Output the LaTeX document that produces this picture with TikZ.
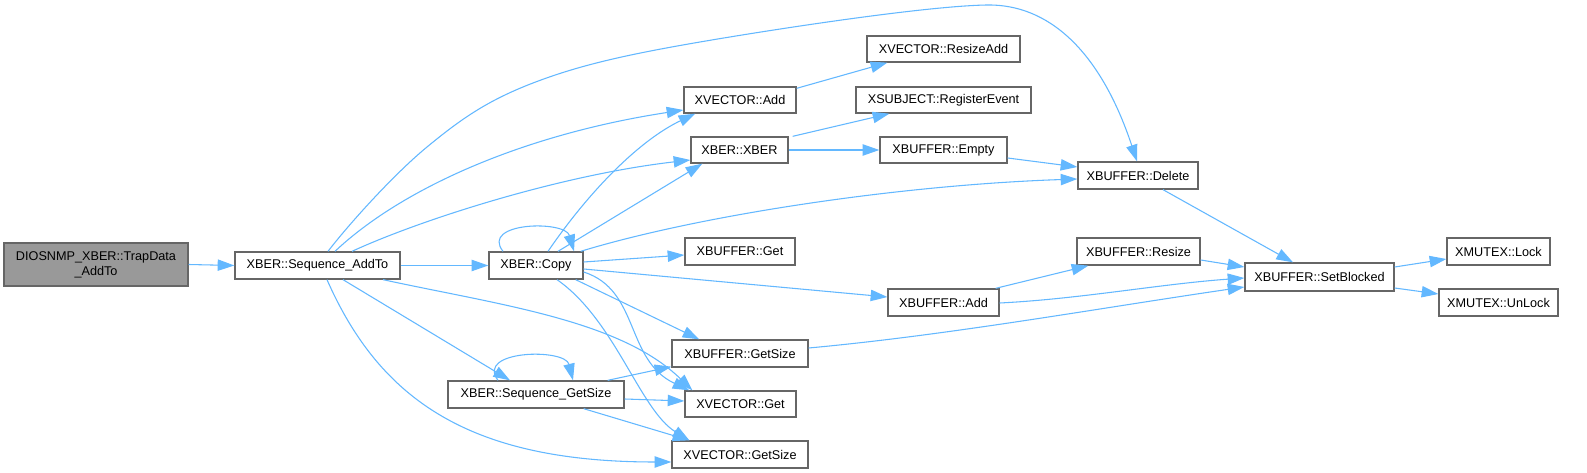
\documentclass[tikz,border=0pt]{standalone}
\usepackage{fontspec}
\setmainfont{Liberation Sans}
\usetikzlibrary{arrows.meta,calc}
\definecolor{edgec}{HTML}{63B8FF}
\definecolor{bordc}{HTML}{666666}
\definecolor{rootc}{HTML}{999999}
\tikzset{
  nd/.style={draw=bordc, fill=white, line width=1pt, minimum width=#1*0.75pt,
    minimum height=20.25pt, inner sep=0pt, font=\fontsize{9.5}{11.25}\selectfont, align=center},
  edge/.style={draw=edgec, line width=0.8pt, -{Triangle[length=12.5pt,width=8.5pt]}}
}
\begin{document}
\begin{tikzpicture}[x=0.75pt,y=-0.75pt]
\fill[white] (0,0) rectangle (1587,473);
\useasboundingbox (0,0) rectangle (1587,473);
% nodes
\node[nd=184, fill=rootc, minimum height=32.25pt] (dio) at (96,264.5) {DIOSNMP\_XBER::TrapData\\\_AddTo};
\node[nd=165] (sat) at (317.5,265.5) {XBER::Sequence\_AddTo};
\node[nd=94] (copy) at (536,265.5) {XBER::Copy};
\node[nd=110] (get) at (740,251.5) {XBUFFER::Get};
\node[nd=153, minimum height=19.5pt] (radd) at (943.5,49) {XVECTOR::ResizeAdd};
\node[nd=112, minimum height=19.5pt] (vadd) at (740,100) {XVECTOR::Add};
\node[nd=175, minimum height=19.5pt] (reg) at (943.5,100) {XSUBJECT::RegisterEvent};
\node[nd=97, minimum height=19.5pt] (xber) at (739.5,150) {XBER::XBER};
\node[nd=127, minimum height=19.5pt] (empty) at (943.5,150) {XBUFFER::Empty};
\node[nd=120] (del) at (1138,175.5) {XBUFFER::Delete};
\node[nd=123] (resize) at (1138.5,251.5) {XBUFFER::Resize};
\node[nd=149, minimum height=21pt] (setb) at (1319.5,277) {XBUFFER::SetBlocked};
\node[nd=103] (lock) at (1498.5,251.5) {XMUTEX::Lock};
\node[nd=119] (unlock) at (1498.5,302.5) {XMUTEX::UnLock};
\node[nd=136] (bgs) at (740,353.5) {XBUFFER::GetSize};
\node[nd=176] (sgs) at (536,394.5) {XBER::Sequence\_GetSize};
\node[nd=111, minimum height=19.5pt] (vget) at (740.5,404) {XVECTOR::Get};
\node[nd=136] (vgs) at (740,454.5) {XVECTOR::GetSize};
\node[nd=111] (badd) at (943.5,302.5) {XBUFFER::Add};
% edges
\draw[edge] (dio.east) -- (sat.west);
\draw[edge] ($(sat.north)+(10.5,0)$) .. controls (348,225.3) and (392.8,175.2) .. (427,147)
  .. controls (461.2,118.8) and (487.5,100.5) .. (533,83)
  .. controls (578.5,65.5) and (624.3,55) .. (700,42)
  .. controls (775.7,29) and (925.8,6) .. (987,5)
  .. controls (1048,4) and (1100,50) .. ($(del.north)+(-1,0)$);
\draw[edge] ($(sat.north)+(17.5,0)$) .. controls (400,190) and (520,135) .. ($(vadd.west)+(0,10)$);
\draw[edge] ($(sat.north)+(34.5,0)$) .. controls (420,220) and (560,175) .. ($(xber.west)+(0,10)$);
\draw[edge] (sat.east) -- (copy.west);
\draw[edge] ($(sat.south)+(65.5,0)$) .. controls (500,305) and (620,320) .. ($(vget.north west)+(8,0)$);
\draw[edge] ($(sat.south)+(25.5,0)$) -- ($(sgs.north)+(-26,0)$);
\draw[edge] ($(sat.south)+(9.5,0)$) .. controls (380,400) and (470,462) .. ($(vgs.west)+(0,7.5)$);
\draw[edge] ($(copy.north)+(-33,0)$) .. controls (480,222) and (565,220) .. ($(copy.north)+(38,0)$);
\draw[edge] ($(copy.north)+(12,0)$) .. controls (590,190) and (640,140) .. ($(vadd.south west)+(12,0)$);
\draw[edge] ($(copy.north)+(22,0)$) -- ($(xber.south west)+(12,0)$);
\draw[edge] ($(copy.north east)+(-3,0)$) .. controls (700,215) and (900,185) .. ($(del.west)+(0,3.5)$);
\draw[edge] ($(copy.east)+(0,-3.5)$) -- ($(get.west)+(0,3.5)$);
\draw[edge] ($(copy.east)+(0,3.5)$) -- ($(badd.west)+(0,-5.5)$);
\draw[edge] ($(copy.south east)+(-8,0)$) -- ($(bgs.north west)+(28,0)$);
\draw[edge] ($(copy.east)+(0,6.5)$) .. controls (640,290) and (625,360) .. ($(vget.north west)+(5,0)$);
\draw[edge] ($(copy.south)+(21,0)$) .. controls (615,320) and (640,410) .. ($(vgs.north west)+(18,0)$);
\draw[edge] ($(vadd.north east)+(0,2)$) -- ($(radd.south west)+(21,0)$);
\draw[edge] ($(xber.north east)+(4,0)$) -- ($(reg.south west)+(34,0)$);
\draw[edge] (xber.east) -- (empty.west);
\draw[edge] ($(empty.east)+(0,8)$) -- ($(del.west)+(0,-8.5)$);
\draw[edge] ($(del.south)+(25,0)$) -- ($(setb.north)+(-26.5,0)$);
\draw[edge] ($(resize.east)+(0,8.5)$) -- ($(setb.west)+(0,-10)$);
\draw[edge] ($(badd.north east)+(-4,0)$) -- ($(resize.south west)+(12,0)$);
\draw[edge] ($(badd.east)+(0,0.5)$) .. controls (1080,299) and (1160,284) .. ($(setb.west)+(0,1)$);
\draw[edge] ($(bgs.east)+(0,-5.5)$) .. controls (950,335) and (1100,308) .. ($(setb.west)+(0,10)$);
\draw[edge] ($(setb.east)+(0,-10)$) -- ($(lock.west)+(0,7.5)$);
\draw[edge] ($(setb.east)+(0,11)$) -- ($(unlock.west)+(0,-8.5)$);
\draw[edge] ($(sgs.north)+(-38,0)$) .. controls (475,350) and (565,348) .. ($(sgs.north)+(37,0)$);
\draw[edge] ($(sgs.north east)+(-17,0)$) -- ($(bgs.south west)+(0,-1)$);
\draw[edge] ($(sgs.east)+(0,4.5)$) -- ($(vget.west)+(0,-3)$);
\draw[edge] ($(sgs.south east)+(-41,0)$) -- ($(vgs.north west)+(18,0)$);
\end{tikzpicture}
\end{document}
